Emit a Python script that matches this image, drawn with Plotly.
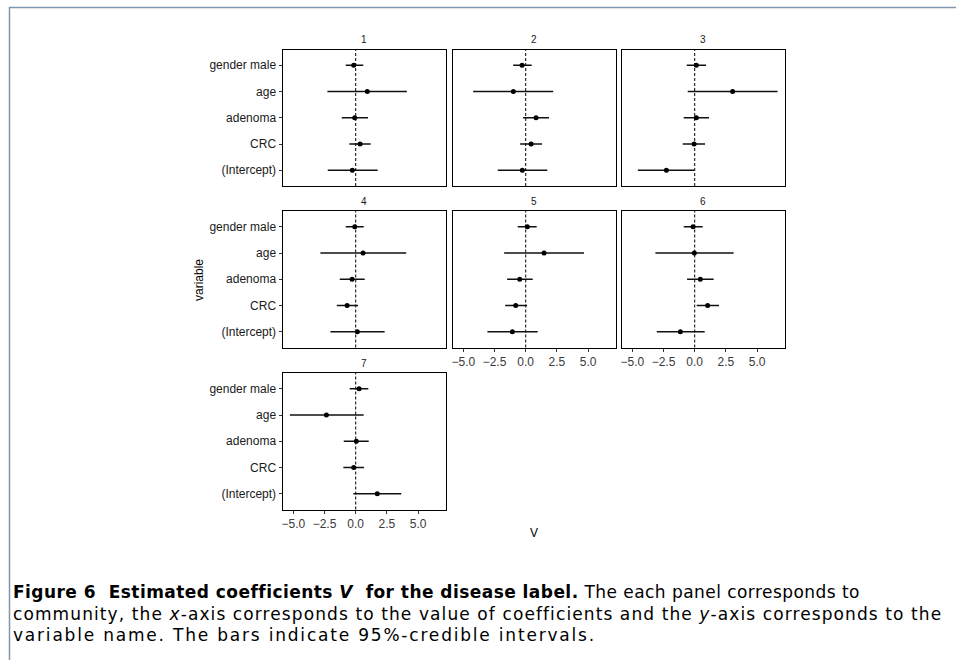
import plotly.graph_objects as go

W, H = 956, 660

variables = ["gender male", "age", "adenoma", "CRC", "(Intercept)"]
panels = ["1", "2", "3", "4", "5", "6", "7"]

# estimates (mean), lower and upper 95% credible bounds, per panel, in order of `variables`
est = {
    "1": [-0.16, 0.93, -0.08, 0.35, -0.27],
    "2": [-0.29, -0.99, 0.83, 0.43, -0.27],
    "3": [0.13, 3.04, 0.13, -0.05, -2.27],
    "4": [-0.08, 0.59, -0.29, -0.69, 0.13],
    "5": [0.13, 1.47, -0.48, -0.80, -1.07],
    "6": [-0.13, -0.03, 0.45, 1.04, -1.15],
    "7": [0.27, -2.35, 0.05, -0.16, 1.73],
}
lower = {
    "1": [-0.80, -2.27, -1.12, -0.51, -2.24],
    "2": [-1.01, -4.21, -0.21, -0.45, -2.24],
    "3": [-0.64, -0.56, -0.88, -0.96, -4.56],
    "4": [-0.80, -2.83, -1.28, -1.52, -2.03],
    "5": [-0.64, -1.73, -1.49, -1.65, -3.07],
    "6": [-0.88, -3.15, -0.61, 0.16, -3.04],
    "7": [-0.48, -5.28, -0.96, -0.99, -0.19],
}
upper = {
    "1": [0.61, 4.10, 0.99, 1.20, 1.76],
    "2": [0.48, 2.21, 1.87, 1.31, 1.73],
    "3": [0.91, 6.64, 1.15, 0.83, -0.03],
    "4": [0.64, 4.05, 0.72, 0.19, 2.32],
    "5": [0.88, 4.67, 0.56, 0.11, 0.96],
    "6": [0.64, 3.12, 1.52, 1.95, 0.80],
    "7": [1.01, 0.64, 1.04, 0.67, 3.65],
}

x_tickvals = [-5.0, -2.5, 0.0, 2.5, 5.0]
x_ticktext = ["\u22125.0", "\u22122.5", "0.0", "2.5", "5.0"]

caption_lines = [
    "<b>Figure 6  Estimated coefficients <i>V</i>  for the disease label.</b> "
    "The each panel corresponds to",
    "community, the <i>x</i>-axis corresponds to the value of coefficients and the "
    "<i>y</i>-axis corresponds to the",
    "variable name. The bars indicate 95%-credible intervals.",
]
caption_spacing = [0.45, 1.1, 1.8]
caption_y = [592, 614, 635]

# layout geometry (pixels)
cols_px = [(282.5, 445.5), (452.5, 615.5), (621.5, 784.5)]
rows_px = [(49.5, 186.0), (211.0, 347.5), (373.0, 509.5)]

def px_x(v):
    return v / W

def px_y(v):
    return 1 - v / H

fig = go.Figure()
xrange_ = [-5.87, 7.2]
cat_order = list(reversed(variables))
FONT = "Liberation Sans, Arial, sans-serif"

for i, p in enumerate(panels):
    r, c = divmod(i, 3)
    n = i + 1
    xa = "x" if n == 1 else f"x{n}"
    ya = "y" if n == 1 else f"y{n}"
    m = est[p]
    lo = lower[p]
    hi = upper[p]
    fig.add_trace(go.Scatter(
        x=m, y=variables, xaxis=xa, yaxis=ya, mode="markers",
        marker=dict(color="black", size=5),
        error_x=dict(type="data", symmetric=False,
                     array=[h - e for h, e in zip(hi, m)],
                     arrayminus=[e - l for e, l in zip(m, lo)],
                     width=0, thickness=1.3, color="#111111"),
        showlegend=False, hoverinfo="skip"))
    show_x = (n >= 5)
    show_y = (c == 0)
    x0, x1 = cols_px[c]
    y0, y1 = rows_px[r]
    fig.layout[f"xaxis{'' if n == 1 else n}"] = dict(
        domain=[px_x(x0), px_x(x1)], anchor=ya, range=xrange_,
        showgrid=False, zeroline=False, showline=True, mirror=True,
        linecolor="black", linewidth=1,
        tickmode="array", tickvals=x_tickvals, ticktext=x_ticktext,
        showticklabels=show_x, ticks="outside" if show_x else "",
        ticklen=3, tickcolor="#333333",
        tickfont=dict(family=FONT, size=12, color="#3a3a3a"))
    fig.layout[f"yaxis{'' if n == 1 else n}"] = dict(
        domain=[px_y(y1), px_y(y0)], anchor=xa,
        type="category", categoryorder="array", categoryarray=cat_order,
        range=[-0.6, 4.6],
        showgrid=False, zeroline=False, showline=True, mirror=True,
        linecolor="black", linewidth=1,
        showticklabels=show_y, ticks="outside" if show_y else "",
        ticklen=3, tickcolor="#333333",
        tickfont=dict(family=FONT, size=12, color="#1a1a1a"))
    fig.add_shape(type="line", xref=xa, yref=f"{ya} domain", x0=0, x1=0, y0=0, y1=1,
                  line=dict(color="black", width=1, dash="3px,2px"))
    fig.add_annotation(text=p, x=px_x((x0 + x1) / 2), y=px_y(y0 - 9.5),
                       xref="paper", yref="paper", showarrow=False,
                       xanchor="center", yanchor="middle",
                       font=dict(family=FONT, size=10, color="#1a1a1a"))

fig.add_annotation(text="variable", x=px_x(199), y=px_y(280), xref="paper", yref="paper",
                   showarrow=False, textangle=-90, xanchor="center", yanchor="middle",
                   font=dict(family=FONT, size=12, color="black"))
fig.add_annotation(text="V", x=px_x(533.5), y=px_y(533), xref="paper", yref="paper",
                   showarrow=False, xanchor="center", yanchor="middle",
                   font=dict(family=FONT, size=12, color="black"))
for line, sp, yy in zip(caption_lines, caption_spacing, caption_y):
    fig.add_annotation(text=f'<span style="letter-spacing:{sp}px">{line}</span>',
                       x=px_x(11), y=px_y(yy), xref="paper", yref="paper",
                       xanchor="left", yanchor="middle", align="left", showarrow=False,
                       font=dict(family="DejaVu Sans, sans-serif", size=17, color="black"))

# page frame
fig.add_shape(type="line", xref="paper", yref="paper", x0=px_x(9), x1=1.0, y0=px_y(7.5), y1=px_y(7.5),
              line=dict(color="#7f96b0", width=1.5))
fig.add_shape(type="line", xref="paper", yref="paper", x0=px_x(9.5), x1=px_x(9.5), y0=0, y1=px_y(7),
              line=dict(color="#7f96b0", width=1.5))

fig.update_layout(width=W, height=H, autosize=False,
                  margin=dict(l=0, r=0, t=0, b=0),
                  paper_bgcolor="white", plot_bgcolor="white")

fig.write_html("out.html")
